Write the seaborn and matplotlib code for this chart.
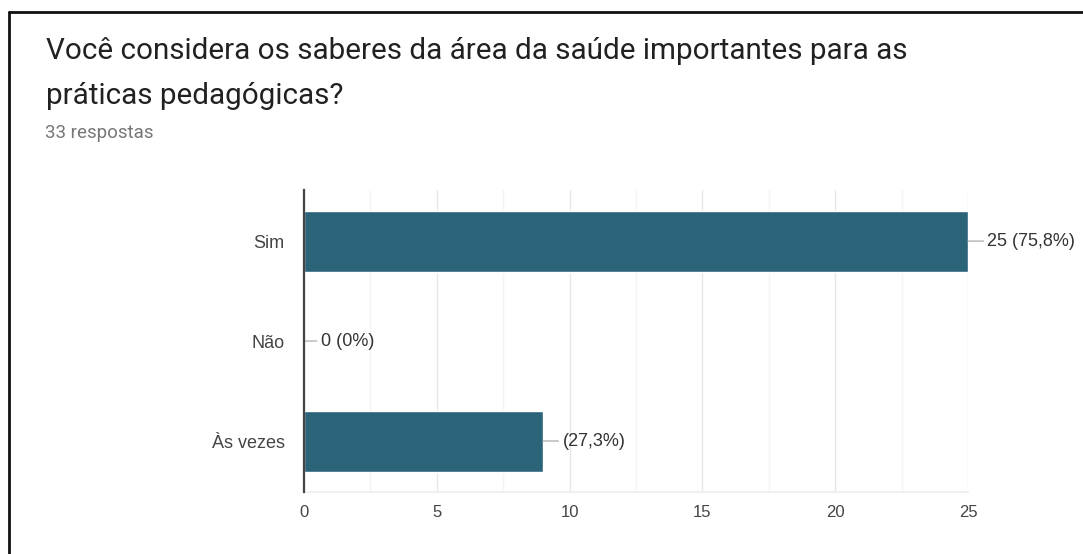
import matplotlib
matplotlib.use("Agg")
import matplotlib.pyplot as plt
from matplotlib.lines import Line2D
import seaborn as sns
import pandas as pd

categories = ["Sim", "Não", "Às vezes"]
values = [25, 0, 9]
value_labels = ["25 (75,8%)", "0 (0%)", "(27,3%)"]
x_ticks = [0, 5, 10, 15, 20, 25]
title = "Você considera os saberes da área da saúde importantes para as\npráticas pedagógicas?"
subtitle = "33 respostas"

sns.set_theme(style="white")
plt.rcParams["font.family"] = ["Liberation Sans", "DejaVu Sans"]

df = pd.DataFrame({"cat": categories, "val": values})

fig = plt.figure(figsize=(10.83, 5.54), dpi=100)
ax = fig.add_axes([0.2807, 0.1119, 0.6131, 0.545])

sns.barplot(data=df, x="val", y="cat", orient="h", color="#2b6379",
            width=0.61, saturation=1, ax=ax, zorder=3)

ax.set_xlim(0, 25)
ax.set_ylim(2.51, -0.51)
ax.set_xticks(x_ticks)
ax.set_xticks([2.5, 7.5, 12.5, 17.5, 22.5], minor=True)
ax.grid(axis="x", which="major", color="#e8e8e8", linewidth=1, zorder=0)
ax.grid(axis="x", which="minor", color="#f4f4f4", linewidth=1, zorder=0)
ax.set_axisbelow(True)
ax.set_xlabel("")
ax.set_ylabel("")
ax.tick_params(axis="both", length=0, labelcolor="#444444")
ax.tick_params(axis="x", pad=9, labelsize=12)
ax.tick_params(axis="y", pad=14, labelsize=13)
for s in ["top", "right"]:
    ax.spines[s].set_visible(False)
ax.spines["bottom"].set_color("#eeeeee")
ax.spines["left"].set_color("#444444")
ax.spines["left"].set_linewidth(1.6)
ax.spines["left"].set_zorder(5)

offsets = [14, 12, 14]
for i, (v, lab) in enumerate(zip(values, value_labels)):
    ax.annotate(lab, xy=(v, i), xytext=(offsets[i], 0), textcoords="offset points",
                va="center", ha="left", fontsize=13, color="#333333",
                arrowprops=dict(arrowstyle="-", color="#aaaaaa", lw=0.9,
                                shrinkA=0.5, shrinkB=0),
                annotation_clip=False)

fig.text(46 / 1083, 1 - 37 / 554, title, fontsize=21.3, color="#212121",
         family=["Roboto", "DejaVu Sans"], va="top", ha="left", linespacing=1.76)
fig.text(45 / 1083, 1 - 133 / 554, subtitle, fontsize=13.5, color="#777777",
         family=["Roboto", "DejaVu Sans"], va="center", ha="left")

# frame lines (top and left)
fig.add_artist(Line2D([9 / 1083, 1], [1 - 12 / 554, 1 - 12 / 554],
                      transform=fig.transFigure, color="#111111", lw=2))
fig.add_artist(Line2D([9 / 1083, 9 / 1083], [0, 1 - 12 / 554],
                      transform=fig.transFigure, color="#111111", lw=2))

fig.savefig("out.png", dpi=100)
